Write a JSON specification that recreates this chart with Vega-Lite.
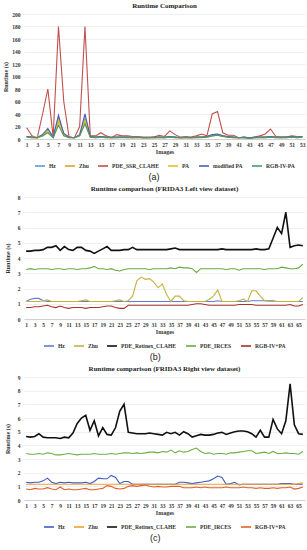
{
"$schema":"https://vega.github.io/schema/vega-lite/v6.json",
"padding":{"left":2,"right":4,"top":2,"bottom":1},
"spacing":3,
"config":{
 "view":{"stroke":null},
 "font":"Liberation Serif",
 "title":{"font":"Liberation Serif","fontSize":7,"fontWeight":"bold","offset":3,"color":"#222"},
 "axis":{"labelFont":"Liberation Serif","labelFontWeight":"bold","labelFontSize":5.5,"labelColor":"#333","titleFont":"Liberation Serif","titleFontWeight":"bold","titleFontSize":6,"titleColor":"#333","ticks":false,"gridColor":"#e4e4e4","gridWidth":0.6,"domainColor":"#c8c8c8","domainWidth":0.8},
 "legend":{"orient":"bottom","direction":"horizontal","gridAlign":"none","title":null,"symbolType":"stroke","symbolSize":100,"symbolStrokeWidth":1.6,"labelFont":"Liberation Serif","labelFontWeight":"bold","labelFontSize":5.6,"labelColor":"#333","columnPadding":5,"padding":0,"offset":5,"labelOffset":3,"layout":{"bottom":{"anchor":"middle"}}}
},
"datasets":{
"a":[
{"i":1,"Hz":4,"Zhu":3,"PDE_SSR_CLAHE":18,"PA":4,"modified PA":4,"RGB-IV-PA":3},
{"i":2,"Hz":3,"Zhu":2,"PDE_SSR_CLAHE":5,"PA":3,"modified PA":3,"RGB-IV-PA":2},
{"i":3,"Hz":2,"Zhu":2,"PDE_SSR_CLAHE":2,"PA":3,"modified PA":2,"RGB-IV-PA":2},
{"i":4,"Hz":7,"Zhu":5,"PDE_SSR_CLAHE":40,"PA":6,"modified PA":7,"RGB-IV-PA":5},
{"i":5,"Hz":14,"Zhu":12,"PDE_SSR_CLAHE":80,"PA":13,"modified PA":17,"RGB-IV-PA":10},
{"i":6,"Hz":3,"Zhu":2,"PDE_SSR_CLAHE":3,"PA":3,"modified PA":3,"RGB-IV-PA":2},
{"i":7,"Hz":33,"Zhu":28,"PDE_SSR_CLAHE":180,"PA":30,"modified PA":38,"RGB-IV-PA":22},
{"i":8,"Hz":8,"Zhu":6,"PDE_SSR_CLAHE":60,"PA":7,"modified PA":9,"RGB-IV-PA":5},
{"i":9,"Hz":3,"Zhu":2,"PDE_SSR_CLAHE":3,"PA":3,"modified PA":3,"RGB-IV-PA":2},
{"i":10,"Hz":2,"Zhu":2,"PDE_SSR_CLAHE":2,"PA":2,"modified PA":2,"RGB-IV-PA":2},
{"i":11,"Hz":6,"Zhu":5,"PDE_SSR_CLAHE":20,"PA":6,"modified PA":7,"RGB-IV-PA":5},
{"i":12,"Hz":33,"Zhu":28,"PDE_SSR_CLAHE":180,"PA":30,"modified PA":40,"RGB-IV-PA":24},
{"i":13,"Hz":4,"Zhu":3,"PDE_SSR_CLAHE":5,"PA":4,"modified PA":4,"RGB-IV-PA":3},
{"i":14,"Hz":3,"Zhu":2,"PDE_SSR_CLAHE":5,"PA":3,"modified PA":3,"RGB-IV-PA":2},
{"i":15,"Hz":3,"Zhu":3,"PDE_SSR_CLAHE":10,"PA":3,"modified PA":4,"RGB-IV-PA":3},
{"i":16,"Hz":3,"Zhu":2,"PDE_SSR_CLAHE":5,"PA":3,"modified PA":3,"RGB-IV-PA":2},
{"i":17,"Hz":2,"Zhu":2,"PDE_SSR_CLAHE":2,"PA":2,"modified PA":3,"RGB-IV-PA":2},
{"i":18,"Hz":3,"Zhu":2,"PDE_SSR_CLAHE":7,"PA":3,"modified PA":3,"RGB-IV-PA":2},
{"i":19,"Hz":3,"Zhu":3,"PDE_SSR_CLAHE":5,"PA":3,"modified PA":3,"RGB-IV-PA":2},
{"i":20,"Hz":3,"Zhu":2,"PDE_SSR_CLAHE":5,"PA":3,"modified PA":3,"RGB-IV-PA":2},
{"i":21,"Hz":2,"Zhu":2,"PDE_SSR_CLAHE":4,"PA":3,"modified PA":3,"RGB-IV-PA":2},
{"i":22,"Hz":3,"Zhu":2,"PDE_SSR_CLAHE":4,"PA":3,"modified PA":3,"RGB-IV-PA":2},
{"i":23,"Hz":2,"Zhu":2,"PDE_SSR_CLAHE":3,"PA":2,"modified PA":2,"RGB-IV-PA":2},
{"i":24,"Hz":2,"Zhu":2,"PDE_SSR_CLAHE":3,"PA":2,"modified PA":2,"RGB-IV-PA":2},
{"i":25,"Hz":2,"Zhu":2,"PDE_SSR_CLAHE":3,"PA":2,"modified PA":3,"RGB-IV-PA":2},
{"i":26,"Hz":3,"Zhu":2,"PDE_SSR_CLAHE":6,"PA":3,"modified PA":3,"RGB-IV-PA":2},
{"i":27,"Hz":2,"Zhu":2,"PDE_SSR_CLAHE":4,"PA":3,"modified PA":3,"RGB-IV-PA":2},
{"i":28,"Hz":3,"Zhu":3,"PDE_SSR_CLAHE":13,"PA":3,"modified PA":4,"RGB-IV-PA":3},
{"i":29,"Hz":3,"Zhu":2,"PDE_SSR_CLAHE":7,"PA":3,"modified PA":3,"RGB-IV-PA":2},
{"i":30,"Hz":2,"Zhu":2,"PDE_SSR_CLAHE":3,"PA":2,"modified PA":2,"RGB-IV-PA":2},
{"i":31,"Hz":2,"Zhu":2,"PDE_SSR_CLAHE":4,"PA":3,"modified PA":3,"RGB-IV-PA":2},
{"i":32,"Hz":2,"Zhu":2,"PDE_SSR_CLAHE":3,"PA":2,"modified PA":2,"RGB-IV-PA":2},
{"i":33,"Hz":3,"Zhu":2,"PDE_SSR_CLAHE":5,"PA":3,"modified PA":3,"RGB-IV-PA":2},
{"i":34,"Hz":3,"Zhu":3,"PDE_SSR_CLAHE":8,"PA":3,"modified PA":3,"RGB-IV-PA":2},
{"i":35,"Hz":4,"Zhu":3,"PDE_SSR_CLAHE":5,"PA":4,"modified PA":4,"RGB-IV-PA":3},
{"i":36,"Hz":6,"Zhu":5,"PDE_SSR_CLAHE":40,"PA":6,"modified PA":7,"RGB-IV-PA":5},
{"i":37,"Hz":7,"Zhu":6,"PDE_SSR_CLAHE":44,"PA":7,"modified PA":8,"RGB-IV-PA":6},
{"i":38,"Hz":5,"Zhu":4,"PDE_SSR_CLAHE":10,"PA":5,"modified PA":5,"RGB-IV-PA":4},
{"i":39,"Hz":3,"Zhu":3,"PDE_SSR_CLAHE":6,"PA":3,"modified PA":4,"RGB-IV-PA":3},
{"i":40,"Hz":3,"Zhu":2,"PDE_SSR_CLAHE":6,"PA":3,"modified PA":3,"RGB-IV-PA":2},
{"i":41,"Hz":2,"Zhu":2,"PDE_SSR_CLAHE":2,"PA":2,"modified PA":2,"RGB-IV-PA":2},
{"i":42,"Hz":2,"Zhu":2,"PDE_SSR_CLAHE":3,"PA":2,"modified PA":3,"RGB-IV-PA":2},
{"i":43,"Hz":2,"Zhu":1,"PDE_SSR_CLAHE":1,"PA":2,"modified PA":2,"RGB-IV-PA":1},
{"i":44,"Hz":2,"Zhu":2,"PDE_SSR_CLAHE":3,"PA":2,"modified PA":3,"RGB-IV-PA":2},
{"i":45,"Hz":3,"Zhu":2,"PDE_SSR_CLAHE":5,"PA":3,"modified PA":3,"RGB-IV-PA":2},
{"i":46,"Hz":3,"Zhu":2,"PDE_SSR_CLAHE":8,"PA":3,"modified PA":3,"RGB-IV-PA":2},
{"i":47,"Hz":3,"Zhu":3,"PDE_SSR_CLAHE":16,"PA":4,"modified PA":4,"RGB-IV-PA":3},
{"i":48,"Hz":3,"Zhu":2,"PDE_SSR_CLAHE":4,"PA":3,"modified PA":3,"RGB-IV-PA":2},
{"i":49,"Hz":2,"Zhu":2,"PDE_SSR_CLAHE":3,"PA":2,"modified PA":3,"RGB-IV-PA":2},
{"i":50,"Hz":3,"Zhu":2,"PDE_SSR_CLAHE":3,"PA":3,"modified PA":3,"RGB-IV-PA":2},
{"i":51,"Hz":3,"Zhu":3,"PDE_SSR_CLAHE":5,"PA":3,"modified PA":4,"RGB-IV-PA":3},
{"i":52,"Hz":3,"Zhu":2,"PDE_SSR_CLAHE":4,"PA":3,"modified PA":3,"RGB-IV-PA":2},
{"i":53,"Hz":3,"Zhu":3,"PDE_SSR_CLAHE":4,"PA":3,"modified PA":4,"RGB-IV-PA":3}
],
"b":[
{"i":1,"Hz":1.15,"Zhu":1.15,"PDE_Retinex_CLAHE":4.45,"PDE_IRCES":3.25,"RGB-IV+PA":0.75},
{"i":2,"Hz":1.3,"Zhu":1.15,"PDE_Retinex_CLAHE":4.45,"PDE_IRCES":3.3,"RGB-IV+PA":0.75},
{"i":3,"Hz":1.35,"Zhu":1.15,"PDE_Retinex_CLAHE":4.5,"PDE_IRCES":3.25,"RGB-IV+PA":0.8},
{"i":4,"Hz":1.35,"Zhu":1.15,"PDE_Retinex_CLAHE":4.5,"PDE_IRCES":3.3,"RGB-IV+PA":0.8},
{"i":5,"Hz":1.2,"Zhu":1.2,"PDE_Retinex_CLAHE":4.55,"PDE_IRCES":3.3,"RGB-IV+PA":0.85},
{"i":6,"Hz":1.15,"Zhu":1.25,"PDE_Retinex_CLAHE":4.7,"PDE_IRCES":3.3,"RGB-IV+PA":0.9},
{"i":7,"Hz":1.15,"Zhu":1.15,"PDE_Retinex_CLAHE":4.7,"PDE_IRCES":3.25,"RGB-IV+PA":0.8},
{"i":8,"Hz":1.15,"Zhu":1.15,"PDE_Retinex_CLAHE":4.8,"PDE_IRCES":3.3,"RGB-IV+PA":0.75},
{"i":9,"Hz":1.15,"Zhu":1.15,"PDE_Retinex_CLAHE":4.5,"PDE_IRCES":3.3,"RGB-IV+PA":0.85},
{"i":10,"Hz":1.15,"Zhu":1.15,"PDE_Retinex_CLAHE":4.75,"PDE_IRCES":3.25,"RGB-IV+PA":0.75},
{"i":11,"Hz":1.15,"Zhu":1.15,"PDE_Retinex_CLAHE":4.55,"PDE_IRCES":3.3,"RGB-IV+PA":0.7},
{"i":12,"Hz":1.15,"Zhu":1.15,"PDE_Retinex_CLAHE":4.5,"PDE_IRCES":3.3,"RGB-IV+PA":0.75},
{"i":13,"Hz":1.15,"Zhu":1.15,"PDE_Retinex_CLAHE":4.7,"PDE_IRCES":3.25,"RGB-IV+PA":0.75},
{"i":14,"Hz":1.15,"Zhu":1.2,"PDE_Retinex_CLAHE":4.7,"PDE_IRCES":3.3,"RGB-IV+PA":0.75},
{"i":15,"Hz":1.15,"Zhu":1.25,"PDE_Retinex_CLAHE":4.5,"PDE_IRCES":3.3,"RGB-IV+PA":0.7},
{"i":16,"Hz":1.15,"Zhu":1.15,"PDE_Retinex_CLAHE":4.45,"PDE_IRCES":3.35,"RGB-IV+PA":0.75},
{"i":17,"Hz":1.15,"Zhu":1.15,"PDE_Retinex_CLAHE":4.3,"PDE_IRCES":3.45,"RGB-IV+PA":0.75},
{"i":18,"Hz":1.15,"Zhu":1.15,"PDE_Retinex_CLAHE":4.45,"PDE_IRCES":3.3,"RGB-IV+PA":0.75},
{"i":19,"Hz":1.15,"Zhu":1.15,"PDE_Retinex_CLAHE":4.6,"PDE_IRCES":3.3,"RGB-IV+PA":0.8},
{"i":20,"Hz":1.15,"Zhu":1.15,"PDE_Retinex_CLAHE":4.75,"PDE_IRCES":3.25,"RGB-IV+PA":0.85},
{"i":21,"Hz":1.15,"Zhu":1.15,"PDE_Retinex_CLAHE":4.5,"PDE_IRCES":3.3,"RGB-IV+PA":0.85},
{"i":22,"Hz":1.15,"Zhu":1.2,"PDE_Retinex_CLAHE":4.5,"PDE_IRCES":3.2,"RGB-IV+PA":0.75},
{"i":23,"Hz":1.15,"Zhu":1.25,"PDE_Retinex_CLAHE":4.5,"PDE_IRCES":3.15,"RGB-IV+PA":0.7},
{"i":24,"Hz":1.15,"Zhu":1.15,"PDE_Retinex_CLAHE":4.55,"PDE_IRCES":3.25,"RGB-IV+PA":0.7},
{"i":25,"Hz":1.15,"Zhu":1.2,"PDE_Retinex_CLAHE":4.55,"PDE_IRCES":3.3,"RGB-IV+PA":0.9},
{"i":26,"Hz":1.15,"Zhu":1.5,"PDE_Retinex_CLAHE":4.7,"PDE_IRCES":3.3,"RGB-IV+PA":0.9},
{"i":27,"Hz":1.15,"Zhu":2.5,"PDE_Retinex_CLAHE":4.55,"PDE_IRCES":3.3,"RGB-IV+PA":0.9},
{"i":28,"Hz":1.15,"Zhu":2.75,"PDE_Retinex_CLAHE":4.55,"PDE_IRCES":3.3,"RGB-IV+PA":0.9},
{"i":29,"Hz":1.15,"Zhu":2.6,"PDE_Retinex_CLAHE":4.55,"PDE_IRCES":3.3,"RGB-IV+PA":0.9},
{"i":30,"Hz":1.15,"Zhu":2.65,"PDE_Retinex_CLAHE":4.55,"PDE_IRCES":3.25,"RGB-IV+PA":0.9},
{"i":31,"Hz":1.15,"Zhu":2.4,"PDE_Retinex_CLAHE":4.55,"PDE_IRCES":3.3,"RGB-IV+PA":0.9},
{"i":32,"Hz":1.15,"Zhu":2.05,"PDE_Retinex_CLAHE":4.55,"PDE_IRCES":3.3,"RGB-IV+PA":0.9},
{"i":33,"Hz":1.15,"Zhu":2.3,"PDE_Retinex_CLAHE":4.55,"PDE_IRCES":3.3,"RGB-IV+PA":0.9},
{"i":34,"Hz":1.15,"Zhu":1.6,"PDE_Retinex_CLAHE":4.55,"PDE_IRCES":3.3,"RGB-IV+PA":0.9},
{"i":35,"Hz":1.15,"Zhu":1.15,"PDE_Retinex_CLAHE":4.6,"PDE_IRCES":3.35,"RGB-IV+PA":0.9},
{"i":36,"Hz":1.15,"Zhu":1.5,"PDE_Retinex_CLAHE":4.65,"PDE_IRCES":3.3,"RGB-IV+PA":0.9},
{"i":37,"Hz":1.15,"Zhu":1.5,"PDE_Retinex_CLAHE":4.55,"PDE_IRCES":3.4,"RGB-IV+PA":0.9},
{"i":38,"Hz":1.15,"Zhu":1.2,"PDE_Retinex_CLAHE":4.55,"PDE_IRCES":3.35,"RGB-IV+PA":0.9},
{"i":39,"Hz":1.15,"Zhu":1.15,"PDE_Retinex_CLAHE":4.55,"PDE_IRCES":3.35,"RGB-IV+PA":0.9},
{"i":40,"Hz":1.15,"Zhu":1.15,"PDE_Retinex_CLAHE":4.55,"PDE_IRCES":3.3,"RGB-IV+PA":0.95},
{"i":41,"Hz":1.15,"Zhu":1.15,"PDE_Retinex_CLAHE":4.55,"PDE_IRCES":3.05,"RGB-IV+PA":1.0},
{"i":42,"Hz":1.15,"Zhu":1.15,"PDE_Retinex_CLAHE":4.55,"PDE_IRCES":3.3,"RGB-IV+PA":1.0},
{"i":43,"Hz":1.15,"Zhu":1.15,"PDE_Retinex_CLAHE":4.55,"PDE_IRCES":3.3,"RGB-IV+PA":0.95},
{"i":44,"Hz":1.15,"Zhu":1.3,"PDE_Retinex_CLAHE":4.55,"PDE_IRCES":3.3,"RGB-IV+PA":0.9},
{"i":45,"Hz":1.15,"Zhu":1.5,"PDE_Retinex_CLAHE":4.55,"PDE_IRCES":3.3,"RGB-IV+PA":0.9},
{"i":46,"Hz":1.2,"Zhu":1.9,"PDE_Retinex_CLAHE":4.55,"PDE_IRCES":3.3,"RGB-IV+PA":0.9},
{"i":47,"Hz":1.15,"Zhu":1.15,"PDE_Retinex_CLAHE":4.6,"PDE_IRCES":3.3,"RGB-IV+PA":0.9},
{"i":48,"Hz":1.15,"Zhu":1.15,"PDE_Retinex_CLAHE":4.55,"PDE_IRCES":3.25,"RGB-IV+PA":0.9},
{"i":49,"Hz":1.15,"Zhu":1.15,"PDE_Retinex_CLAHE":4.55,"PDE_IRCES":3.3,"RGB-IV+PA":0.9},
{"i":50,"Hz":1.15,"Zhu":1.15,"PDE_Retinex_CLAHE":4.55,"PDE_IRCES":3.3,"RGB-IV+PA":0.9},
{"i":51,"Hz":1.15,"Zhu":1.2,"PDE_Retinex_CLAHE":4.55,"PDE_IRCES":3.2,"RGB-IV+PA":0.95},
{"i":52,"Hz":1.15,"Zhu":1.3,"PDE_Retinex_CLAHE":4.55,"PDE_IRCES":3.3,"RGB-IV+PA":0.95},
{"i":53,"Hz":1.15,"Zhu":1.15,"PDE_Retinex_CLAHE":4.55,"PDE_IRCES":3.3,"RGB-IV+PA":0.95},
{"i":54,"Hz":1.2,"Zhu":1.85,"PDE_Retinex_CLAHE":4.55,"PDE_IRCES":3.3,"RGB-IV+PA":0.95},
{"i":55,"Hz":1.2,"Zhu":1.85,"PDE_Retinex_CLAHE":4.6,"PDE_IRCES":3.3,"RGB-IV+PA":0.9},
{"i":56,"Hz":1.2,"Zhu":1.5,"PDE_Retinex_CLAHE":4.55,"PDE_IRCES":3.3,"RGB-IV+PA":0.9},
{"i":57,"Hz":1.2,"Zhu":1.2,"PDE_Retinex_CLAHE":4.55,"PDE_IRCES":3.25,"RGB-IV+PA":0.9},
{"i":58,"Hz":1.2,"Zhu":1.15,"PDE_Retinex_CLAHE":4.6,"PDE_IRCES":3.3,"RGB-IV+PA":0.9},
{"i":59,"Hz":1.2,"Zhu":1.15,"PDE_Retinex_CLAHE":5.3,"PDE_IRCES":3.3,"RGB-IV+PA":0.9},
{"i":60,"Hz":1.15,"Zhu":1.15,"PDE_Retinex_CLAHE":6.0,"PDE_IRCES":3.3,"RGB-IV+PA":0.9},
{"i":61,"Hz":1.15,"Zhu":1.15,"PDE_Retinex_CLAHE":5.6,"PDE_IRCES":3.4,"RGB-IV+PA":0.9},
{"i":62,"Hz":1.15,"Zhu":1.15,"PDE_Retinex_CLAHE":7.0,"PDE_IRCES":3.35,"RGB-IV+PA":0.9},
{"i":63,"Hz":1.15,"Zhu":1.15,"PDE_Retinex_CLAHE":4.7,"PDE_IRCES":3.3,"RGB-IV+PA":0.95},
{"i":64,"Hz":1.15,"Zhu":1.15,"PDE_Retinex_CLAHE":4.8,"PDE_IRCES":3.3,"RGB-IV+PA":0.85},
{"i":65,"Hz":1.15,"Zhu":1.15,"PDE_Retinex_CLAHE":4.85,"PDE_IRCES":3.35,"RGB-IV+PA":0.85},
{"i":66,"Hz":1.15,"Zhu":1.4,"PDE_Retinex_CLAHE":4.8,"PDE_IRCES":3.6,"RGB-IV+PA":0.95}
],
"c":[
{"i":1,"Hz":1.3,"Zhu":1.15,"PDE_Retinex_CLAHE":4.65,"PDE_IRCES":3.4,"RGB-IV+PA":0.8},
{"i":2,"Hz":1.25,"Zhu":1.15,"PDE_Retinex_CLAHE":4.6,"PDE_IRCES":3.35,"RGB-IV+PA":0.75},
{"i":3,"Hz":1.3,"Zhu":1.15,"PDE_Retinex_CLAHE":4.65,"PDE_IRCES":3.35,"RGB-IV+PA":0.85},
{"i":4,"Hz":1.3,"Zhu":1.15,"PDE_Retinex_CLAHE":4.85,"PDE_IRCES":3.4,"RGB-IV+PA":0.8},
{"i":5,"Hz":1.4,"Zhu":1.15,"PDE_Retinex_CLAHE":4.6,"PDE_IRCES":3.35,"RGB-IV+PA":0.8},
{"i":6,"Hz":1.6,"Zhu":1.15,"PDE_Retinex_CLAHE":4.55,"PDE_IRCES":3.45,"RGB-IV+PA":0.9},
{"i":7,"Hz":1.3,"Zhu":1.15,"PDE_Retinex_CLAHE":4.55,"PDE_IRCES":3.4,"RGB-IV+PA":0.8},
{"i":8,"Hz":1.2,"Zhu":1.15,"PDE_Retinex_CLAHE":4.55,"PDE_IRCES":3.3,"RGB-IV+PA":0.75},
{"i":9,"Hz":1.3,"Zhu":1.15,"PDE_Retinex_CLAHE":4.5,"PDE_IRCES":3.3,"RGB-IV+PA":0.95},
{"i":10,"Hz":1.25,"Zhu":1.15,"PDE_Retinex_CLAHE":4.6,"PDE_IRCES":3.35,"RGB-IV+PA":0.75},
{"i":11,"Hz":1.3,"Zhu":1.15,"PDE_Retinex_CLAHE":4.55,"PDE_IRCES":3.4,"RGB-IV+PA":0.8},
{"i":12,"Hz":1.25,"Zhu":1.15,"PDE_Retinex_CLAHE":4.9,"PDE_IRCES":3.35,"RGB-IV+PA":0.75},
{"i":13,"Hz":1.25,"Zhu":1.15,"PDE_Retinex_CLAHE":5.6,"PDE_IRCES":3.3,"RGB-IV+PA":0.75},
{"i":14,"Hz":1.25,"Zhu":1.15,"PDE_Retinex_CLAHE":6.0,"PDE_IRCES":3.35,"RGB-IV+PA":0.8},
{"i":15,"Hz":1.3,"Zhu":1.15,"PDE_Retinex_CLAHE":6.2,"PDE_IRCES":3.35,"RGB-IV+PA":0.85},
{"i":16,"Hz":1.2,"Zhu":1.15,"PDE_Retinex_CLAHE":5.1,"PDE_IRCES":3.35,"RGB-IV+PA":0.75},
{"i":17,"Hz":1.35,"Zhu":1.15,"PDE_Retinex_CLAHE":5.8,"PDE_IRCES":3.4,"RGB-IV+PA":0.75},
{"i":18,"Hz":1.6,"Zhu":1.15,"PDE_Retinex_CLAHE":4.7,"PDE_IRCES":3.35,"RGB-IV+PA":0.8},
{"i":19,"Hz":1.55,"Zhu":1.15,"PDE_Retinex_CLAHE":5.3,"PDE_IRCES":3.35,"RGB-IV+PA":0.85},
{"i":20,"Hz":1.55,"Zhu":1.15,"PDE_Retinex_CLAHE":4.8,"PDE_IRCES":3.35,"RGB-IV+PA":1.05},
{"i":21,"Hz":1.8,"Zhu":1.15,"PDE_Retinex_CLAHE":4.75,"PDE_IRCES":3.4,"RGB-IV+PA":1.0},
{"i":22,"Hz":1.65,"Zhu":1.15,"PDE_Retinex_CLAHE":5.3,"PDE_IRCES":3.35,"RGB-IV+PA":0.85},
{"i":23,"Hz":1.2,"Zhu":1.15,"PDE_Retinex_CLAHE":6.5,"PDE_IRCES":3.4,"RGB-IV+PA":0.8},
{"i":24,"Hz":1.35,"Zhu":1.15,"PDE_Retinex_CLAHE":7.0,"PDE_IRCES":3.45,"RGB-IV+PA":0.85},
{"i":25,"Hz":1.35,"Zhu":1.15,"PDE_Retinex_CLAHE":4.95,"PDE_IRCES":3.45,"RGB-IV+PA":1.0},
{"i":26,"Hz":1.15,"Zhu":1.15,"PDE_Retinex_CLAHE":4.9,"PDE_IRCES":3.4,"RGB-IV+PA":1.05},
{"i":27,"Hz":1.15,"Zhu":1.15,"PDE_Retinex_CLAHE":4.85,"PDE_IRCES":3.45,"RGB-IV+PA":1.0},
{"i":28,"Hz":1.15,"Zhu":1.15,"PDE_Retinex_CLAHE":4.85,"PDE_IRCES":3.4,"RGB-IV+PA":1.05},
{"i":29,"Hz":1.15,"Zhu":1.15,"PDE_Retinex_CLAHE":4.85,"PDE_IRCES":3.45,"RGB-IV+PA":1.1},
{"i":30,"Hz":1.15,"Zhu":1.15,"PDE_Retinex_CLAHE":4.9,"PDE_IRCES":3.5,"RGB-IV+PA":1.0},
{"i":31,"Hz":1.15,"Zhu":1.15,"PDE_Retinex_CLAHE":4.85,"PDE_IRCES":3.5,"RGB-IV+PA":0.95},
{"i":32,"Hz":1.15,"Zhu":1.15,"PDE_Retinex_CLAHE":4.8,"PDE_IRCES":3.45,"RGB-IV+PA":1.0},
{"i":33,"Hz":1.15,"Zhu":1.15,"PDE_Retinex_CLAHE":4.75,"PDE_IRCES":3.55,"RGB-IV+PA":0.95},
{"i":34,"Hz":1.15,"Zhu":1.15,"PDE_Retinex_CLAHE":4.95,"PDE_IRCES":3.5,"RGB-IV+PA":0.95},
{"i":35,"Hz":1.15,"Zhu":1.15,"PDE_Retinex_CLAHE":4.85,"PDE_IRCES":3.65,"RGB-IV+PA":1.0},
{"i":36,"Hz":1.15,"Zhu":1.15,"PDE_Retinex_CLAHE":4.95,"PDE_IRCES":3.45,"RGB-IV+PA":1.0},
{"i":37,"Hz":1.3,"Zhu":1.15,"PDE_Retinex_CLAHE":4.75,"PDE_IRCES":3.6,"RGB-IV+PA":1.0},
{"i":38,"Hz":1.3,"Zhu":1.15,"PDE_Retinex_CLAHE":5.0,"PDE_IRCES":3.5,"RGB-IV+PA":0.9},
{"i":39,"Hz":1.25,"Zhu":1.15,"PDE_Retinex_CLAHE":4.85,"PDE_IRCES":3.55,"RGB-IV+PA":0.9},
{"i":40,"Hz":1.2,"Zhu":1.15,"PDE_Retinex_CLAHE":4.6,"PDE_IRCES":3.7,"RGB-IV+PA":0.9},
{"i":41,"Hz":1.25,"Zhu":1.15,"PDE_Retinex_CLAHE":4.7,"PDE_IRCES":3.8,"RGB-IV+PA":0.95},
{"i":42,"Hz":1.3,"Zhu":1.15,"PDE_Retinex_CLAHE":4.8,"PDE_IRCES":3.55,"RGB-IV+PA":0.9},
{"i":43,"Hz":1.35,"Zhu":1.15,"PDE_Retinex_CLAHE":4.75,"PDE_IRCES":3.4,"RGB-IV+PA":0.95},
{"i":44,"Hz":1.4,"Zhu":1.15,"PDE_Retinex_CLAHE":4.75,"PDE_IRCES":3.45,"RGB-IV+PA":0.9},
{"i":45,"Hz":1.55,"Zhu":1.15,"PDE_Retinex_CLAHE":4.8,"PDE_IRCES":3.35,"RGB-IV+PA":0.9},
{"i":46,"Hz":1.75,"Zhu":1.15,"PDE_Retinex_CLAHE":4.9,"PDE_IRCES":3.4,"RGB-IV+PA":0.9},
{"i":47,"Hz":1.65,"Zhu":1.15,"PDE_Retinex_CLAHE":4.95,"PDE_IRCES":3.4,"RGB-IV+PA":0.9},
{"i":48,"Hz":1.15,"Zhu":1.15,"PDE_Retinex_CLAHE":4.8,"PDE_IRCES":3.35,"RGB-IV+PA":0.95},
{"i":49,"Hz":1.2,"Zhu":1.15,"PDE_Retinex_CLAHE":4.9,"PDE_IRCES":3.45,"RGB-IV+PA":0.9},
{"i":50,"Hz":1.3,"Zhu":1.15,"PDE_Retinex_CLAHE":5.0,"PDE_IRCES":3.45,"RGB-IV+PA":0.9},
{"i":51,"Hz":1.1,"Zhu":1.15,"PDE_Retinex_CLAHE":5.05,"PDE_IRCES":3.5,"RGB-IV+PA":0.9},
{"i":52,"Hz":1.15,"Zhu":1.15,"PDE_Retinex_CLAHE":5.05,"PDE_IRCES":3.55,"RGB-IV+PA":0.95},
{"i":53,"Hz":1.15,"Zhu":1.15,"PDE_Retinex_CLAHE":5.0,"PDE_IRCES":3.6,"RGB-IV+PA":0.9},
{"i":54,"Hz":1.15,"Zhu":1.15,"PDE_Retinex_CLAHE":4.85,"PDE_IRCES":3.6,"RGB-IV+PA":0.9},
{"i":55,"Hz":1.15,"Zhu":1.15,"PDE_Retinex_CLAHE":4.6,"PDE_IRCES":3.4,"RGB-IV+PA":0.85},
{"i":56,"Hz":1.15,"Zhu":1.15,"PDE_Retinex_CLAHE":5.1,"PDE_IRCES":3.45,"RGB-IV+PA":0.9},
{"i":57,"Hz":1.15,"Zhu":1.15,"PDE_Retinex_CLAHE":4.6,"PDE_IRCES":3.5,"RGB-IV+PA":0.85},
{"i":58,"Hz":1.15,"Zhu":1.15,"PDE_Retinex_CLAHE":4.6,"PDE_IRCES":3.4,"RGB-IV+PA":0.85},
{"i":59,"Hz":1.15,"Zhu":1.15,"PDE_Retinex_CLAHE":5.9,"PDE_IRCES":3.55,"RGB-IV+PA":0.9},
{"i":60,"Hz":1.15,"Zhu":1.15,"PDE_Retinex_CLAHE":5.2,"PDE_IRCES":3.4,"RGB-IV+PA":0.85},
{"i":61,"Hz":1.2,"Zhu":1.15,"PDE_Retinex_CLAHE":4.85,"PDE_IRCES":3.4,"RGB-IV+PA":0.9},
{"i":62,"Hz":1.2,"Zhu":1.15,"PDE_Retinex_CLAHE":5.8,"PDE_IRCES":3.45,"RGB-IV+PA":0.9},
{"i":63,"Hz":1.2,"Zhu":1.15,"PDE_Retinex_CLAHE":8.5,"PDE_IRCES":3.4,"RGB-IV+PA":0.95},
{"i":64,"Hz":1.15,"Zhu":1.15,"PDE_Retinex_CLAHE":5.5,"PDE_IRCES":3.4,"RGB-IV+PA":0.8},
{"i":65,"Hz":1.15,"Zhu":1.2,"PDE_Retinex_CLAHE":4.85,"PDE_IRCES":3.35,"RGB-IV+PA":0.85},
{"i":66,"Hz":1.15,"Zhu":1.25,"PDE_Retinex_CLAHE":4.8,"PDE_IRCES":3.55,"RGB-IV+PA":0.95}
]
},
"vconcat":[
 {"title":{"text":"(a)","orient":"bottom","anchor":"middle","font":"Liberation Sans","fontSize":9,"fontWeight":"normal","offset":3},
  "vconcat":[{
   "title":"Runtime Comparison",
   "data":{"name":"a"},
   "transform":[{"fold":["Hz","Zhu","PDE_SSR_CLAHE","PA","modified PA","RGB-IV-PA"],"as":["s","v"]}],
   "width":281,"height":125,
   "mark":{"type":"line","strokeWidth":1.1},
   "encoding":{
    "x":{"field":"i","type":"ordinal","scale":{"type":"point","padding":0.5},"axis":{"values":[1,3,5,7,9,11,13,15,17,19,21,23,25,27,29,31,33,35,37,39,41,43,45,47,49,51,53],"labelAngle":0,"labelPadding":3,"title":"Images","titlePadding":1}},
    "y":{"field":"v","type":"quantitative","scale":{"domain":[0,200]},"axis":{"values":[0,20,40,60,80,100,120,140,160,180,200],"domain":false,"title":"Runtime (s)","titlePadding":3,"labelPadding":4}},
    "color":{"field":"s","type":"nominal","scale":{"domain":["Hz","Zhu","PDE_SSR_CLAHE","PA","modified PA","RGB-IV-PA"],"range":["#5b9bd5","#e0a030","#c0504d","#e8c020","#4a5fb0","#4d9a6a"]},"legend":{"gridAlign":"none","columns":6}}
   }
  }],
  "resolve":{"scale":{"color":"independent"},"legend":{"color":"independent"}}
 },
 {"title":{"text":"(b)","orient":"bottom","anchor":"middle","font":"Liberation Sans","fontSize":9,"fontWeight":"normal","offset":3},
  "vconcat":[{
   "title":"Runtime comparison (FRIDA3 Left view dataset)",
   "data":{"name":"b"},
   "transform":[{"fold":["Hz","Zhu","PDE_Retinex_CLAHE","PDE_IRCES","RGB-IV+PA"],"as":["s","v"]}],
   "width":281,"height":122,
   "mark":{"type":"line"},
   "encoding":{
    "x":{"field":"i","type":"ordinal","scale":{"type":"point","padding":0.5},"axis":{"values":[1,3,5,7,9,11,13,15,17,19,21,23,25,27,29,31,33,35,37,39,41,43,45,47,49,51,53,55,57,59,61,63,65],"labelAngle":0,"labelPadding":3,"title":"Images","titlePadding":1}},
    "y":{"field":"v","type":"quantitative","scale":{"domain":[0,8]},"axis":{"values":[0,1,2,3,4,5,6,7,8],"domain":false,"title":"Runtime (s)","titlePadding":7,"labelPadding":4}},
    "color":{"field":"s","type":"nominal","scale":{"domain":["Hz","Zhu","PDE_Retinex_CLAHE","PDE_IRCES","RGB-IV+PA"],"range":["#5b7fd0","#c8b040","#111111","#6aaa40","#a8322a"]},"legend":{"gridAlign":"none","columns":5}},
    "strokeWidth":{"condition":{"test":"datum.s==='PDE_Retinex_CLAHE'","value":1.6},"value":1.1}
   }
  }],
  "resolve":{"scale":{"color":"independent"},"legend":{"color":"independent"}}
 },
 {"title":{"text":"(c)","orient":"bottom","anchor":"middle","font":"Liberation Sans","fontSize":9,"fontWeight":"normal","offset":3},
  "vconcat":[{
   "title":"Runtime comparison (FRIDA3 Right view dataset)",
   "data":{"name":"c"},
   "transform":[{"fold":["Hz","Zhu","PDE_Retinex_CLAHE","PDE_IRCES","RGB-IV+PA"],"as":["s","v"]}],
   "width":281,"height":123,
   "mark":{"type":"line"},
   "encoding":{
    "x":{"field":"i","type":"ordinal","scale":{"type":"point","padding":0.5},"axis":{"values":[1,3,5,7,9,11,13,15,17,19,21,23,25,27,29,31,33,35,37,39,41,43,45,47,49,51,53,55,57,59,61,63,65],"labelAngle":0,"labelPadding":3,"title":"Images","titlePadding":1}},
    "y":{"field":"v","type":"quantitative","scale":{"domain":[0,9]},"axis":{"values":[0,1,2,3,4,5,6,7,8,9],"domain":false,"title":"Runtime (s)","titlePadding":7,"labelPadding":4}},
    "color":{"field":"s","type":"nominal","scale":{"domain":["Hz","Zhu","PDE_Retinex_CLAHE","PDE_IRCES","RGB-IV+PA"],"range":["#3a5cc8","#f0a030","#111111","#70ad47","#e0602a"]},"legend":{"gridAlign":"none","columns":5}},
    "strokeWidth":{"condition":{"test":"datum.s==='PDE_Retinex_CLAHE'","value":1.6},"value":1.1}
   }
  }],
  "resolve":{"scale":{"color":"independent"},"legend":{"color":"independent"}}
 }
],
"resolve":{"scale":{"color":"independent","x":"independent","y":"independent"},"legend":{"color":"independent"}}
}
